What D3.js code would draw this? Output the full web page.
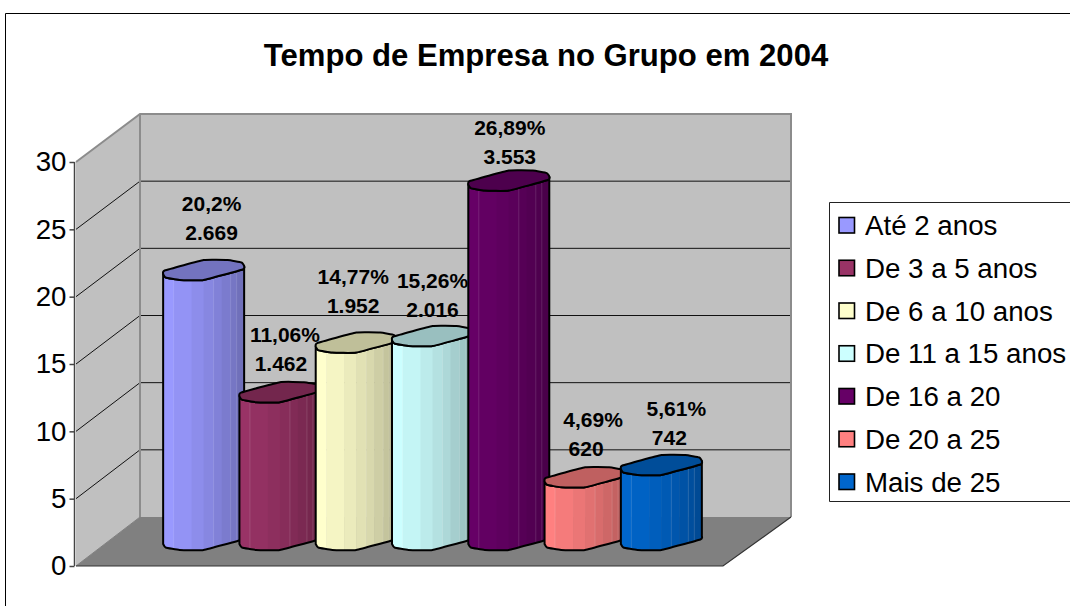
<!DOCTYPE html>
<html><head><meta charset="utf-8">
<script src="https://cdn.jsdelivr.net/npm/d3@7"></script>
<style>html,body{margin:0;padding:0;background:#fff;overflow:hidden}svg{display:block}text{font-family:"Liberation Sans",Arial,sans-serif;fill:#000}</style>
</head><body><div id="c"></div>
<script>
const title = "Tempo de Empresa no Grupo em 2004";
const categories = ["Até 2 anos","De 3 a 5 anos","De 6 a 10 anos","De 11 a 15 anos","De 16 a 20","De 20 a 25","Mais de 25"];
const values = [20.2,11.06,14.77,15.26,26.89,4.69,5.61];
const percentLabels = ["20,2%","11,06%","14,77%","15,26%","26,89%","4,69%","5,61%"];
const countLabels = ["2.669","1.462","1.952","2.016","3.553","620","742"];
const colors = ["#9999FF","#993366","#FFFFCC","#CCFFFF","#660066","#FF8080","#0066CC"];
const yTicks = [0,5,10,15,20,25,30];
const labelDx = [8,5,-3,0,1,8,15];
const countDx = [8,1,-3,0,1,1,8];
const labelDy = [-65,-56,-65,-54,-52,-56,-55].map(d=>d-1.3);

const W=1070,H=606;
const svg=d3.select("#c").append("svg").attr("width",W).attr("height",H);
const defs=svg.append("defs");
svg.append("path").attr("d",`M5.5,${H+2}V13.5H${W+2}`).attr("fill","none").attr("stroke","#000");
svg.append("text").attr("x",546).attr("y",65.5).attr("text-anchor","middle")
  .attr("font-size",31.1).attr("font-weight","bold").text(title);

const yFront=d3.scaleLinear().domain([0,30]).range([566,162]);
const yBack=d3.scaleLinear().domain([0,30]).range([517,114]);
const yBar=d3.scaleLinear().domain([0,30]).range([540,139]);
const x=d3.scaleBand().domain(categories).range([165.5,699.5]);
const line=d3.line();

const x0=76,x1=140,x2=791,x3=723;
svg.append("path").attr("d",line([[x0,yFront(30)],[x1,yBack(30)],[x1,yBack(0)],[x0,yFront(0)]])+"Z").attr("fill","#c0c0c0");
svg.append("rect").attr("x",x1).attr("y",yBack(30)).attr("width",x2-x1).attr("height",yBack(0)-yBack(30)).attr("fill","#c0c0c0");
svg.append("path").attr("d",line([[x0,yFront(0)],[x1,yBack(0)],[x2,yBack(0)],[x3,yFront(0)]])+"Z").attr("fill","#808080");
yTicks.filter(d=>d>0&&d<30).forEach(d=>{
  svg.append("path").attr("d",line([[x0,yFront(d)],[x1,yBack(d)],[x2,yBack(d)]])).attr("fill","none").attr("stroke","#111").attr("stroke-width",1);
});
svg.append("path").attr("d",line([[x0,yFront(30)],[x1,yBack(30)],[x2,yBack(30)],[x2,yBack(0)]])).attr("fill","none").attr("stroke","#8c8c8c").attr("stroke-width",2);
svg.append("path").attr("d",line([[x1,yBack(30)],[x1,yBack(0)]])).attr("stroke","#8c8c8c").attr("stroke-width",2);
svg.append("path").attr("d",line([[x1,yBack(0)],[x0,yFront(0)]])).attr("stroke","#808080");
svg.append("path").attr("d",line([[x0,yFront(0)],[x3,yFront(0)],[x2,yBack(0)]])).attr("fill","none").attr("stroke","#333").attr("stroke-width",1.2);
const axis=svg.append("g").attr("transform",`translate(${x0-1.5},0)`).call(d3.axisLeft(yFront).tickValues(yTicks).tickSize(5).tickPadding(3));
axis.selectAll("path,line").attr("stroke","#444").attr("stroke-width",1.5);
axis.select(".domain").attr("d",`M0,${yFront(30)}V${yFront(0)}`);
axis.selectAll("text").attr("font-size",27.7).attr("font-family",'"Liberation Sans",Arial,sans-serif');

// cross-section of the faceted cylinder, relative to its centre
const frontArc=[[40.5,-4],[39,-0.5],[0,10],[-24,10],[-38,7.5],[-40.5,4]];
const backArc=[[-39,0.5],[0,-10],[24,-10],[38,-7.5]];
const fullArc=frontArc.concat(backArc);
const facetEdges=[-42,-30,-12,0,10,18,27,33,42];
const lightEdges=[-30,10,27,33];
const shade=(c,k)=>{const r=d3.rgb(c);return d3.rgb(r.r*k,r.g*k,r.b*k).formatHex();};
const closedCurve=d3.line().curve(d3.curveCardinalClosed.tension(0.65));
const openCurve=d3.line().curve(d3.curveCardinal.tension(0.65));
const bars=svg.append("g");
categories.forEach((c,i)=>{
  const cx=x(c)+x.bandwidth()/2, yT=yBar(values[i]), yB=yBar(0), col=colors[i];
  const shift=(arr,cy)=>arr.map(p=>[cx+p[0],cy+p[1]]);
  const topPart=openCurve(shift(frontArc,yT));
  const botPart=openCurve(shift(frontArc.slice().reverse(),yB)).replace(/^M/,"L");
  const silhouette=topPart+botPart+"Z";
  const id="clip"+i;
  defs.append("clipPath").attr("id",id).append("path").attr("d",silhouette);
  const g=bars.append("g");
  const strips=g.append("g").attr("clip-path",`url(#${id})`);
  facetEdges.slice(0,-1).forEach((e,j)=>{
    const k=1-0.27*j/(facetEdges.length-2);
    strips.append("rect").attr("x",cx+e).attr("y",yT-14).attr("width",facetEdges[j+1]-e+0.5)
      .attr("height",yB-yT+28).attr("fill",shade(col,k));
  });
  lightEdges.forEach(e=>{
    strips.append("line").attr("x1",cx+e).attr("x2",cx+e).attr("y1",yT-14).attr("y2",yB+14)
      .attr("stroke","#fff").attr("stroke-opacity",0.13).attr("stroke-width",1);
  });
  g.append("path").attr("d",silhouette).attr("fill","none").attr("stroke","#000").attr("stroke-width",2).attr("stroke-linejoin","round");
  g.append("path").attr("d",closedCurve(shift(fullArc,yT))).attr("fill",shade(col,0.75)).attr("stroke","#000").attr("stroke-width",2).attr("stroke-linejoin","round");
});
categories.forEach((c,i)=>{
  const cx=x(c)+x.bandwidth()/2, yT=yBar(values[i]);
  const mk=(tx,dx,dy)=>svg.append("text").attr("x",cx+dx).attr("y",yT+dy).attr("text-anchor","middle").attr("font-size",21).attr("font-weight","bold").attr("dy","0.35em").text(tx);
  mk(percentLabels[i],labelDx[i],labelDy[i]);
  mk(countLabels[i],countDx[i],labelDy[i]+29);
});
svg.append("path").attr("d",`M${W+2},202.5H829.5V501.5H${W+2}`).attr("fill","#fff").attr("stroke","#222");
const ly=d3.scalePoint().domain(categories).range([225.5,482]);
categories.forEach((c,i)=>{
  svg.append("rect").attr("x",839).attr("y",ly(c)-8).attr("width",15.5).attr("height",15.5).attr("fill",colors[i]).attr("stroke","#000").attr("stroke-width",1.6);
  svg.append("text").attr("x",865).attr("y",ly(c)).attr("dy","0.35em").attr("font-size",27.7).text(c);
});
</script></body></html>
